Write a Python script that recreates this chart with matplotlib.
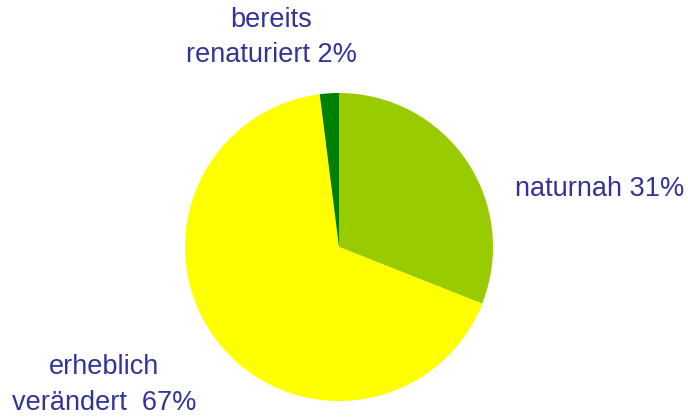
import matplotlib.pyplot as plt

labels = ["naturnah 31%", "erheblich\nverändert  67%", "bereits\nrenaturiert 2%"]
werte = [31, 67, 2]
farben = ["#99CC00", "#FFFF00", "#008000"]
text_farbe = "#333399"

plt.rcParams["font.family"] = ["Liberation Sans", "DejaVu Sans"]

fig = plt.figure(figsize=(6.88, 4.17), dpi=100)
ax = fig.add_axes([0, 0, 1, 1])

ax.pie(werte, colors=farben, startangle=90, counterclock=False,
       center=(339, 170), radius=154, frame=True,
       wedgeprops=dict(linewidth=0))
ax.set_xlim(0, 688)
ax.set_ylim(0, 417)
ax.set_aspect("equal")
ax.axis("off")

# Beschriftungen
pos = [(600, 228), (104, 32), (271, 380)]
for txt, (x, y) in zip(labels, pos):
    ax.text(x, y, txt, ha="center", va="center", fontsize=19.5,
            color=text_farbe, linespacing=1.45)

fig.savefig("out.png", dpi=100)
